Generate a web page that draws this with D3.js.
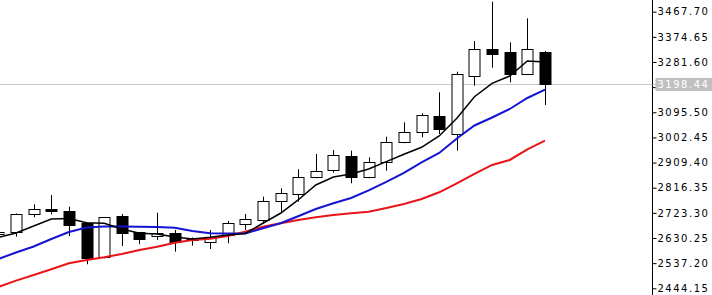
<!DOCTYPE html>
<html lang="en">
<head>
    <meta charset="UTF-8">
    <title>candles with d3</title>
    <script src="https://cdn.jsdelivr.net/npm/d3@7"></script>
    <style>
        body {
            margin: 0;
            background-color: white;
        }

        svg {
            display: block;
            background-color: white;
        }

        .tick text {
            font-family: "DejaVu Sans", sans-serif;
            font-size: 10px;
            letter-spacing: 1.5px;
            fill: black;
        }
    </style>
</head>
<body>
    <script>
        // bars, left (partly cut off) to right
        const bars = d3.range(32);
        const open  = [2645.2, 2651.5, 2718.1, 2736.6, 2731.4, 2684.8, 2557.5, 2711.8, 2651.5, 2635.2, 2650.0, 2629.3, 2614.5, 2641.5, 2682.2, 2697.0,
                       2767.3, 2795.8, 2857.2, 2882.0, 2933.8, 2855.0, 2912.7, 2983.0, 3021.5, 3081.8, 3015.2, 3229.8, 3330.8, 3319.7, 3237.2, 3317.5];
        const high  = [2660.0, 2721.1, 2755.1, 2789.5, 2746.2, 2687.0, 2708.1, 2719.2, 2652.6, 2724.0, 2660.0, 2632.3, 2660.0, 2693.3, 2719.2, 2783.2,
                       2814.3, 2884.6, 2941.2, 2956.0, 2953.4, 2929.0, 3005.2, 3058.5, 3091.8, 3169.5, 3245.7, 3359.3, 3504.7, 3354.5, 3443.3, 3322.3];
        const low   = [2637.8, 2635.2, 2707.0, 2718.1, 2637.8, 2533.1, 2554.5, 2600.8, 2607.1, 2623.0, 2579.7, 2601.9, 2589.7, 2610.8, 2660.0, 2684.8,
                       2721.8, 2764.7, 2851.3, 2872.0, 2832.8, 2851.3, 2879.4, 2980.8, 3003.0, 3015.2, 2953.4, 3193.9, 3260.5, 3206.5, 3237.2, 3122.5];
        const close = [2652.6, 2718.1, 2737.7, 2730.3, 2678.5, 2553.8, 2707.0, 2650.0, 2626.7, 2647.8, 2616.7, 2620.4, 2629.3, 2684.8, 2699.6, 2767.3,
                       2795.8, 2857.2, 2879.4, 2937.5, 2857.2, 2910.5, 2986.7, 3021.5, 3085.5, 3032.6, 3237.2, 3328.6, 3313.8, 3237.2, 3329.7, 3198.44];

        // moving averages
        const maFast = [2632.3, 2648.9, 2674.8, 2700.7, 2702.6, 2687.0, 2684.8, 2663.7, 2647.8, 2645.2, 2634.1, 2626.7, 2633.0, 2641.5, 2647.1, 2684.8,
                        2721.8, 2771.0, 2826.5, 2856.1, 2867.2, 2885.7, 2912.7, 2940.1, 2966.0, 3007.8, 3073.3, 3153.2, 3202.8, 3229.8, 3285.3, 3281.6];
        const maMid  = [2552.7, 2576.8, 2599.0, 2626.7, 2652.6, 2669.3, 2673.0, 2673.0, 2672.2, 2671.1, 2668.5, 2656.3, 2647.8, 2647.1, 2647.1, 2666.3,
                        2684.8, 2710.7, 2737.7, 2758.8, 2778.4, 2806.2, 2837.6, 2870.9, 2910.5, 2944.9, 2998.6, 3046.7, 3076.3, 3107.7, 3148.4, 3179.1];
        const maSlow = [2449.1, 2472.4, 2493.5, 2514.6, 2536.8, 2549.0, 2559.0, 2571.2, 2586.0, 2598.2, 2613.0, 2623.0, 2627.8, 2637.8, 2653.7, 2672.2,
                        2684.8, 2697.0, 2707.0, 2715.5, 2721.8, 2727.7, 2741.4, 2756.2, 2774.7, 2799.5, 2832.8, 2867.2, 2900.5, 2919.0, 2958.6, 2990.4];

        const yTicks = [3467.70, 3374.65, 3281.60, 3188.55, 3095.50, 3002.45, 2909.40, 2816.35, 2723.30, 2630.25, 2537.20, 2444.15];
        const lastPrice = 3198.44;

        const w = 712;
        const h = 295;
        const axisX = 652.5;

        const svg = d3.select('body')
                    .append('svg')
                    .attr('width', w)
                    .attr('height', h);

        const xScale = d3.scaleLinear()
                    .domain([0, bars.length - 1])
                    .range([-1.6, 545]);

        const yScale = d3.scaleLinear()
                    .domain([2444.15, 3467.70])
                    .range([288.3, 11.7]);

        svg.append('clipPath')
            .attr('id', 'plot')
            .append('rect')
            .attr('x', 0).attr('y', 0)
            .attr('width', axisX).attr('height', h);

        const plot = svg.append('g').attr('clip-path', 'url(#plot)');

        // last price line
        plot.append('line')
            .attr('x1', 0).attr('x2', axisX)
            .attr('y1', Math.round(yScale(lastPrice)) + 0.5)
            .attr('y2', Math.round(yScale(lastPrice)) + 0.5)
            .attr('stroke', '#c8c8c8');

        // wicks
        const px = v => Math.round(v) + 0.5;
        plot.selectAll('.wick')
            .data(bars)
            .enter()
            .append('line')
            .attr('class', 'wick')
            .attr('x1', i => px(xScale(i)))
            .attr('x2', i => px(xScale(i)))
            .attr('y1', i => yScale(high[i]))
            .attr('y2', i => yScale(low[i]))
            .attr('stroke', 'black');

        // bodies
        const bodyW = 11;
        plot.selectAll('.body')
            .data(bars)
            .enter()
            .append('rect')
            .attr('class', 'body')
            .attr('x', i => px(xScale(i)) - bodyW / 2)
            .attr('width', bodyW)
            .attr('y', i => Math.round(yScale(Math.max(open[i], close[i]))) + 0.5)
            .attr('height', i => Math.max(1, Math.round(Math.abs(yScale(open[i]) - yScale(close[i])))))
            .attr('fill', i => close[i] >= open[i] ? 'white' : 'black')
            .attr('stroke', 'black');

        const line = data => d3.line()
                    .x(i => xScale(i))
                    .y(i => yScale(data[i]))(bars);

        plot.append('path').attr('d', line(maSlow)).attr('fill', 'none').attr('stroke', '#e8141a').attr('stroke-width', 2);
        plot.append('path').attr('d', line(maMid)).attr('fill', 'none').attr('stroke', '#1414d2').attr('stroke-width', 2);
        plot.append('path').attr('d', line(maFast)).attr('fill', 'none').attr('stroke', 'black').attr('stroke-width', 1.5);

        // price axis
        const yAxis = d3.axisRight(yScale)
                    .tickValues(yTicks)
                    .tickFormat(d3.format('.2f'))
                    .tickSize(4)
                    .tickPadding(1);
        const ax = svg.append('g')
            .attr('transform', `translate(${axisX}, 0)`)
            .call(yAxis);
        ax.select('.domain').remove();

        svg.append('line')
            .attr('x1', axisX).attr('x2', axisX)
            .attr('y1', 0).attr('y2', h)
            .attr('stroke', 'black');

        // last price tag
        const ly = yScale(lastPrice);
        svg.append('line')
            .attr('x1', axisX).attr('x2', axisX + 3)
            .attr('y1', Math.round(ly) + 0.5).attr('y2', Math.round(ly) + 0.5)
            .attr('stroke', '#c8c8c8');
        svg.append('rect')
            .attr('x', axisX + 3).attr('y', Math.round(ly) - 6)
            .attr('width', w - axisX - 3).attr('height', 13)
            .attr('fill', '#c0c0c0');
        svg.append('text')
            .attr('x', axisX + 5).attr('y', ly)
            .attr('dy', '0.35em')
            .attr('fill', 'white')
            .style('font-family', '"DejaVu Sans", sans-serif')
            .style('font-size', '10px')
            .style('letter-spacing', '1.5px')
            .text(d3.format('.2f')(lastPrice));
    </script>
</body>
</html>
